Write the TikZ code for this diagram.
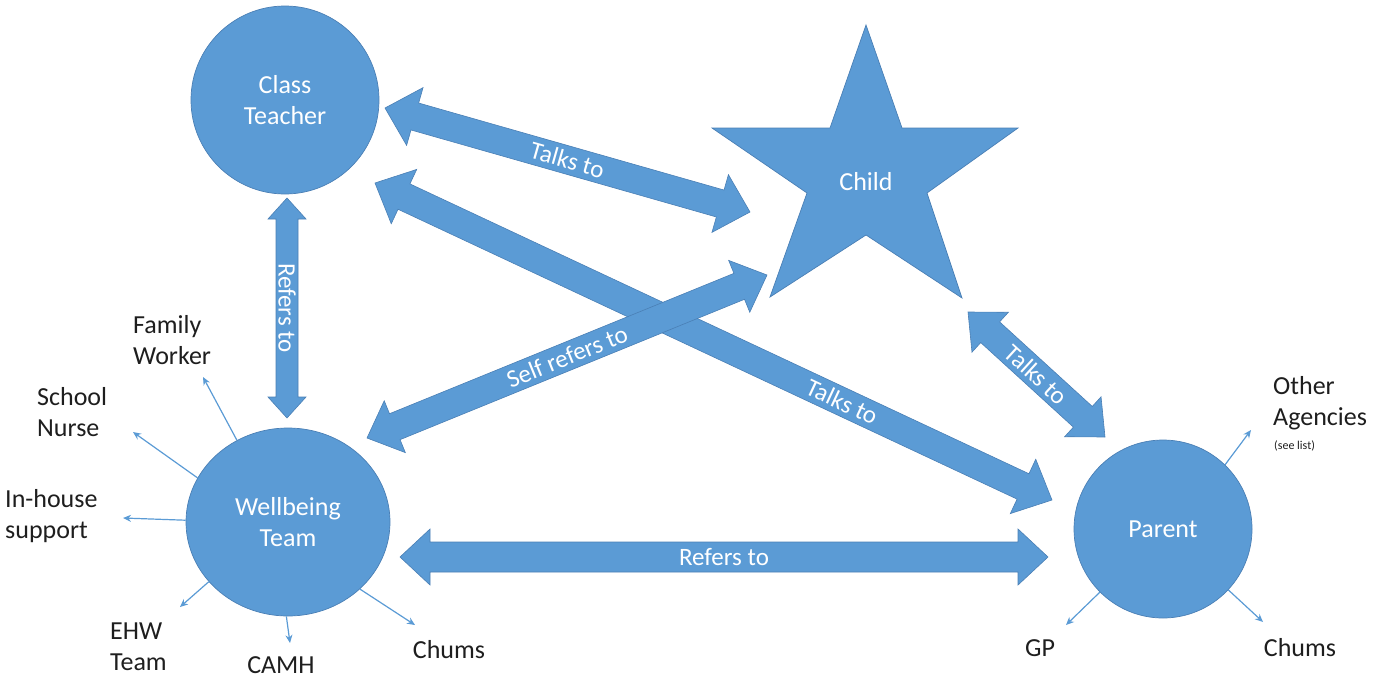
\documentclass[tikz,border=0pt]{standalone}
\usepackage{fontspec}
\setmainfont{Carlito}
\usetikzlibrary{arrows.meta,shapes.geometric,calc}
\definecolor{ofblue}{HTML}{5B9BD5}
\definecolor{ofedge}{HTML}{4A7FB5}
\definecolor{txtdark}{HTML}{1E1E1E}
\newcommand\blockarr[5]{%
  \coordinate (ba1) at ($(#1)!#5!(#2)$);
  \coordinate (ba2) at ($(#2)!#5!(#1)$);
  \filldraw[barrow] (#1) -- ($(ba1)!#4!90:(#2)$) -- ($(ba1)!#3!90:(#2)$)
    -- ($(ba2)!#3!-90:(#1)$) -- ($(ba2)!#4!-90:(#1)$) -- (#2)
    -- ($(ba2)!#4!90:(#1)$) -- ($(ba2)!#3!90:(#1)$)
    -- ($(ba1)!#3!-90:(#2)$) -- ($(ba1)!#4!-90:(#2)$) -- cycle;
}
\begin{document}
\begin{tikzpicture}[x=1pt,y=-1pt,
  blob/.style={fill=ofblue, draw=ofedge, line width=0.7pt, text=white, align=center,
    font=\fontsize{26}{31}\selectfont, inner sep=0pt},
  barrow/.style={fill=ofblue, draw=ofedge, line width=0.6pt, line join=miter},
  lbl/.style={text=txtdark, align=left, inner sep=0pt, font=\fontsize{26}{31}\selectfont},
  thinarr/.style={draw=ofblue, line width=1.2pt, -{Stealth[length=8pt,width=7pt]}},
  alabel/.style={text=white, font=\fontsize{25}{28}\selectfont, inner sep=0pt}
]
\useasboundingbox (0,0) rectangle (1375,680);

% main shapes
\node[blob, circle, minimum size=188pt] (ct) at (285,100) {Class\\Teacher};
\node[blob, ellipse, minimum width=204pt, minimum height=188pt] (wb) at (288,522) {Wellbeing\\Team};
\node[blob, circle, minimum size=178pt] (pa) at (1163,529) {Parent};

% star (child)
\filldraw[fill=ofblue, draw=ofedge, line width=0.7pt, line join=miter]
  (866,25) -- (902,128) -- (1018,128) -- (927,193) -- (962,298) -- (866,235)
  -- (770,297) -- (807,193) -- (712,128) -- (830,128) -- cycle;
\node[text=white, font=\fontsize{26}{31}\selectfont, inner sep=0pt] (ch) at (866,182) {Child};

% arrow end points
\coordinate (tc1) at (385,108); \coordinate (tc2) at (750,212);
\coordinate (tp1) at (375,183); \coordinate (tp2) at (1052,500);
\coordinate (v1) at (287,198);  \coordinate (v2) at (287,418);
\coordinate (s1) at (367,438);  \coordinate (s2) at (767,275);
\coordinate (cp1) at (968,312); \coordinate (cp2) at (1105,437);
\coordinate (h1) at (400,557);  \coordinate (h2) at (1048,557);

\blockarr{tc1}{tc2}{14pt}{30pt}{31pt}
\blockarr{tp1}{tp2}{14pt}{30pt}{32pt}
\blockarr{v1}{v2}{11pt}{19pt}{21pt}
\blockarr{s1}{s2}{14pt}{28pt}{30pt}
\blockarr{cp1}{cp2}{14pt}{27pt}{30pt}
\blockarr{h1}{h2}{15pt}{28pt}{30pt}

\path (tc1) -- (tc2) node[midway, sloped, alabel] {Talks to};
\path (tp1) -- (tp2) node[pos=0.69, sloped, alabel] {Talks to};
\path (v1) -- (v2) node[midway, rotate=-90, alabel] {Refers to};
\path (s1) -- (s2) node[midway, sloped, alabel] {Self refers to};
\path (cp1) -- (cp2) node[midway, sloped, alabel] {Talks to};
\path (h1) -- (h2) node[midway, alabel] {Refers to};

% small arrows from wellbeing team
\coordinate (efw) at (203,377);
\coordinate (esn) at (133,432);
\coordinate (eih) at (123,518);
\coordinate (eehw) at (180,607);
\coordinate (ecamh) at (290,643);
\coordinate (echw) at (415,625);
\draw[thinarr] (wb.122) -- (efw);
\draw[thinarr] (wb.154) -- (esn);
\draw[thinarr] (wb.179) -- (eih);
\draw[thinarr] (wb.217) -- (eehw);
\draw[thinarr] (wb.269) -- (ecamh);
\draw[thinarr] (wb.317) -- (echw);

% small arrows from parent
\coordinate (eoa) at (1251,430);
\coordinate (egp) at (1066,625);
\coordinate (echp) at (1263,622);
\draw[thinarr] (pa.46) -- (eoa);
\draw[thinarr] (pa.225) -- (egp);
\draw[thinarr] (pa.317) -- (echp);

% labels
\node[lbl, anchor=west] (lfw) at (133,340) {Family\\Worker};
\node[lbl, anchor=west] (lsn) at (37,412) {School\\Nurse};
\node[lbl, anchor=west] (lih) at (5,516) {In-house\\support};
\node[lbl, anchor=west] (lehw) at (110,647) {EHW\\Team};
\node[lbl] (lcamh) at (281,665) {CAMH};
\node[lbl] (lchw) at (449,650) {Chums};
\node[lbl, anchor=west] (loa) at (1273,403) {Other\\Agencies};
\node[text=txtdark, inner sep=0pt, anchor=west, font=\fontsize{12}{14}\selectfont] (lsee) at (1274,446) {(see list)};
\node[lbl] (lgp) at (1040,648) {GP};
\node[lbl] (lchp) at (1300,648) {Chums};
\end{tikzpicture}
\end{document}
